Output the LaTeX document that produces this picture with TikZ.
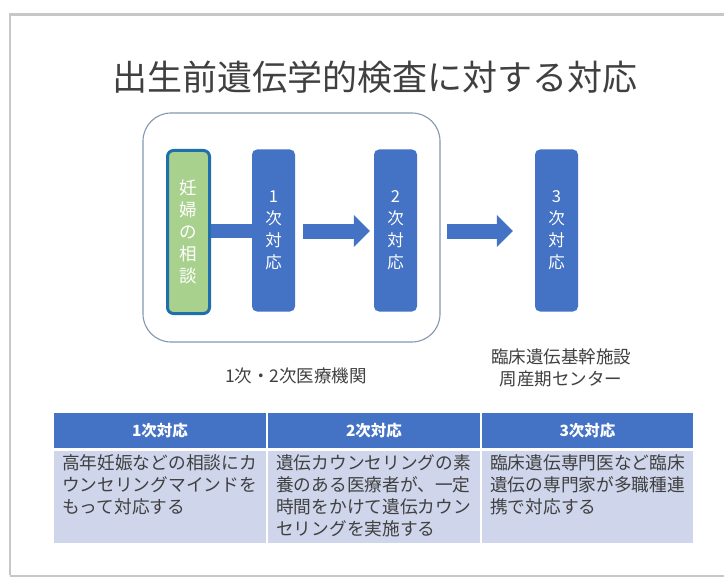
\documentclass[tikz,border=0pt]{standalone}
\usepackage{fontspec}
\setmainfont{Noto Sans CJK JP}
\usetikzlibrary{arrows.meta}
\definecolor{mblue}{HTML}{4472C4}
\definecolor{mgreen}{HTML}{A9D18E}
\definecolor{gborder}{HTML}{1F70AA}
\definecolor{cframe}{HTML}{8497B0}
\definecolor{tbody}{HTML}{CFD5EA}
\definecolor{tgray}{HTML}{404040}
\tikzset{
  vbox/.style={rectangle, rounded corners=5pt, fill=mblue, minimum width=43pt, minimum height=162pt,
    inner sep=0pt, text=white, align=center, font=\fontsize{16.5}{22}\selectfont},
  gbox/.style={rectangle, rounded corners=6pt, fill=mgreen, draw=gborder, line width=3pt,
    minimum width=42pt, minimum height=163pt, inner sep=0pt, text=white, align=center,
    font=\fontsize{17.5}{22}\selectfont},
  bar/.style={draw=mblue, line width=14pt},
  bigarrow/.style={draw=mblue, line width=15pt, -{Triangle[width=31pt,length=16pt]}},
  hcell/.style={rectangle, fill=mblue, minimum height=35pt, inner sep=0pt, text=white,
    font=\fontsize{15.5}{18}\selectfont\bfseries},
  bcell/.style={rectangle, fill=tbody, minimum height=92pt, inner sep=0pt},
  btext/.style={anchor=north west, inner sep=0pt, align=left, text=tgray,
    font=\fontsize{17.7}{22.3}\selectfont},
  lbl/.style={text=tgray, align=center, inner sep=0pt},
}
\begin{document}
\begin{tikzpicture}[x=1pt,y=-1pt]
\useasboundingbox (0,0) rectangle (724,578);
\fill[white] (0,0) rectangle (724,578);
% slide frame
\draw[black!22, line width=2.5pt] (10,575) -- (10,14.5) -- (740,14.5);
\draw[black!22, line width=2pt] (10,575.5) -- (740,575.5);
% title
\node[lbl, font=\fontsize{35}{40}\selectfont] (title) at (375,77) {出生前遺伝学的検査に対する対応};
% container
\node[draw=cframe, line width=1.1pt, rounded corners=28pt, minimum width=297pt, minimum height=229pt, inner sep=0pt] (cont) at (291.5,227.5) {};
% boxes
\node[gbox] (g) at (188.5,232) {妊\\婦\\の\\相\\談};
\node[vbox] (b1) at (273.5,230.5) {1\\次\\対\\応};
\node[vbox] (b2) at (395.5,230.5) {2\\次\\対\\応};
\node[vbox] (b3) at (556.5,230.5) {3\\次\\対\\応};
% connectors
\draw[bar] (g.east |- 0,231) -- (b1.west |- 0,231);
\draw[bigarrow] ([xshift=8pt]b1.east |- 0,231) -- ([xshift=-4pt]b2.west |- 0,231);
\draw[bigarrow] ([xshift=6pt]cont.east |- 0,231) -- ([xshift=-22pt]b3.west |- 0,231);
% labels
\node[lbl, font=\fontsize{17.5}{22}\selectfont] (l1) at (296,376) {1次・2次医療機関};
\node[lbl, font=\fontsize{17.5}{22.5}\selectfont] (l2) at (561,368) {臨床遺伝基幹施設\\周産期センター};
% table
\node[hcell, minimum width=212pt] (h1) at (160,430.5) {1次対応};
\node[hcell, minimum width=212pt] (h2) at (374,430.5) {2次対応};
\node[hcell, minimum width=211pt] (h3) at (587.5,430.5) {3次対応};
\node[bcell, minimum width=212pt] (c1) at (160,497) {};
\node[bcell, minimum width=212pt] (c2) at (374,497) {};
\node[bcell, minimum width=211pt] (c3) at (587.5,497) {};
\node[btext] (t1) at (62,454) {高年妊娠などの相談にカ\\ウンセリングマインドを\\もって対応する};
\node[btext] (t2) at (276,454) {遺伝カウンセリングの素\\養のある医療者が、一定\\時間をかけて遺伝カウン\\セリングを実施する};
\node[btext] (t3) at (490,454) {臨床遺伝専門医など臨床\\遺伝の専門家が多職種連\\携で対応する};
\end{tikzpicture}
\end{document}
